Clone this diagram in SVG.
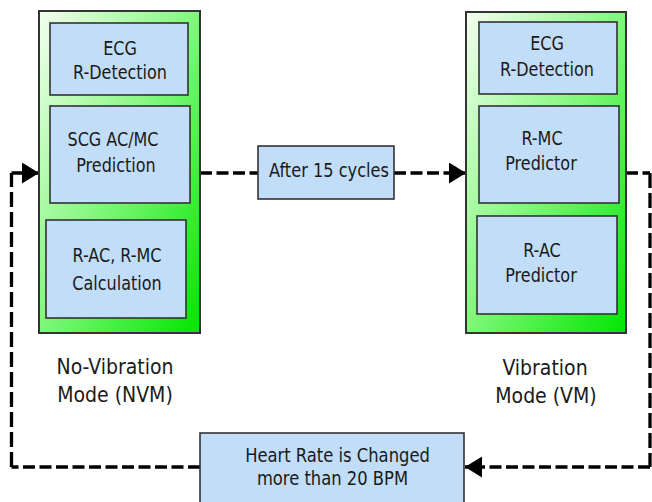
<svg xmlns="http://www.w3.org/2000/svg" width="652" height="502" viewBox="0 0 652 502">
  <style>
    .mode { stroke: #333; stroke-width: 2; fill: url(#greenGrad); }
    .blk { fill: #c2ddf8; stroke: #333; stroke-width: 1.6; }
    .txt { font-family: "DejaVu Sans Condensed", "DejaVu Sans", sans-serif; font-size: 20px; fill: #1a1a1a; text-anchor: middle; }
    .lbl { font-family: "DejaVu Sans Condensed", "DejaVu Sans", sans-serif; font-size: 21px; fill: #1a1a1a; text-anchor: middle; }
    .flow { fill: none; stroke: #000; stroke-width: 3.3; stroke-dasharray: 12 4.5; }
    .vflow { fill: none; stroke: #000; stroke-width: 3.3; stroke-dasharray: 15 5; }
  </style>
  <defs>
    <linearGradient id="greenGrad" x1="0" y1="0" x2="1" y2="1">
      <stop offset="0" stop-color="#f4fff0"/>
      <stop offset="0.5" stop-color="#7ff77a"/>
      <stop offset="1" stop-color="#00e600"/>
    </linearGradient>
    <marker id="arrow" viewBox="0 0 17 21" refX="17" refY="10.5" markerWidth="17" markerHeight="21" markerUnits="userSpaceOnUse" orient="auto">
      <path d="M0,0 L17,10.5 L0,21 Z" fill="#000"/>
    </marker>
  </defs>

  <rect width="652" height="502" fill="#fff"/>

  <!-- connectors -->
  <g id="connectors">
    <path class="flow" d="M200,173 H258"/>
    <path class="flow" d="M394,173 H466" marker-end="url(#arrow)"/>
    <!-- return path: vibration mode -> heart-rate check -> no-vibration mode -->
    <path class="flow" d="M626,173 H650"/>
    <path class="vflow" d="M650,173 V467"/>
    <path class="flow" d="M650,467 H465" marker-end="url(#arrow)"/>
    <path class="flow" d="M200,467 H11.5"/>
    <path class="vflow" d="M11.5,467 V173"/>
    <path class="flow" d="M11.5,173 H39" marker-end="url(#arrow)"/>
  </g>

  <!-- no-vibration mode -->
  <g id="nvm">
    <rect class="mode" x="39" y="11" width="161" height="322"/>
    <g id="nvm-ecg">
      <rect class="blk" x="50" y="23" width="138" height="72"/>
      <text class="txt" transform="translate(120 55) scale(0.89 1)">ECG</text>
      <text class="txt" transform="translate(120 79) scale(0.89 1)">R-Detection</text>
    </g>
    <g id="nvm-pred">
      <rect class="blk" x="50" y="106" width="140" height="97"/>
      <text class="txt" transform="translate(113 146) scale(0.89 1)">SCG AC/MC</text>
      <text class="txt" transform="translate(116 172) scale(0.89 1)">Prediction</text>
    </g>
    <g id="nvm-calc">
      <rect class="blk" x="46" y="220" width="140" height="98"/>
      <text class="txt" transform="translate(117 262) scale(0.89 1)">R-AC, R-MC</text>
      <text class="txt" transform="translate(117 290) scale(0.89 1)">Calculation</text>
    </g>
    <text class="lbl" x="115" y="374">No-Vibration</text>
    <text class="lbl" x="115" y="402">Mode (NVM)</text>
  </g>

  <!-- transition box -->
  <g id="after">
    <rect class="blk" x="258" y="146" width="136" height="53"/>
    <text class="txt" transform="translate(329 177) scale(0.9 1)">After 15 cycles</text>
  </g>

  <!-- vibration mode -->
  <g id="vm">
    <rect class="mode" x="466" y="12" width="160" height="321"/>
    <g id="vm-ecg">
      <rect class="blk" x="479" y="22" width="138" height="72"/>
      <text class="txt" transform="translate(547 50) scale(0.89 1)">ECG</text>
      <text class="txt" transform="translate(547 76) scale(0.89 1)">R-Detection</text>
    </g>
    <g id="vm-rmc">
      <rect class="blk" x="479" y="106" width="140" height="97"/>
      <text class="txt" transform="translate(542 145) scale(0.89 1)">R-MC</text>
      <text class="txt" transform="translate(541 170) scale(0.89 1)">Predictor</text>
    </g>
    <g id="vm-rac">
      <rect class="blk" x="477" y="216" width="140" height="98"/>
      <text class="txt" transform="translate(542 257) scale(0.89 1)">R-AC</text>
      <text class="txt" transform="translate(541 282) scale(0.89 1)">Predictor</text>
    </g>
    <text class="lbl" x="545" y="375">Vibration</text>
    <text class="lbl" x="546" y="403">Mode (VM)</text>
  </g>

  <!-- heart-rate condition -->
  <g id="hr">
    <rect class="blk" x="200" y="433" width="264" height="72"/>
    <text class="txt" transform="translate(337.5 462) scale(0.91 1)">Heart Rate is Changed</text>
    <text class="txt" transform="translate(332.5 485) scale(0.91 1)">more than 20 BPM</text>
  </g>
</svg>
